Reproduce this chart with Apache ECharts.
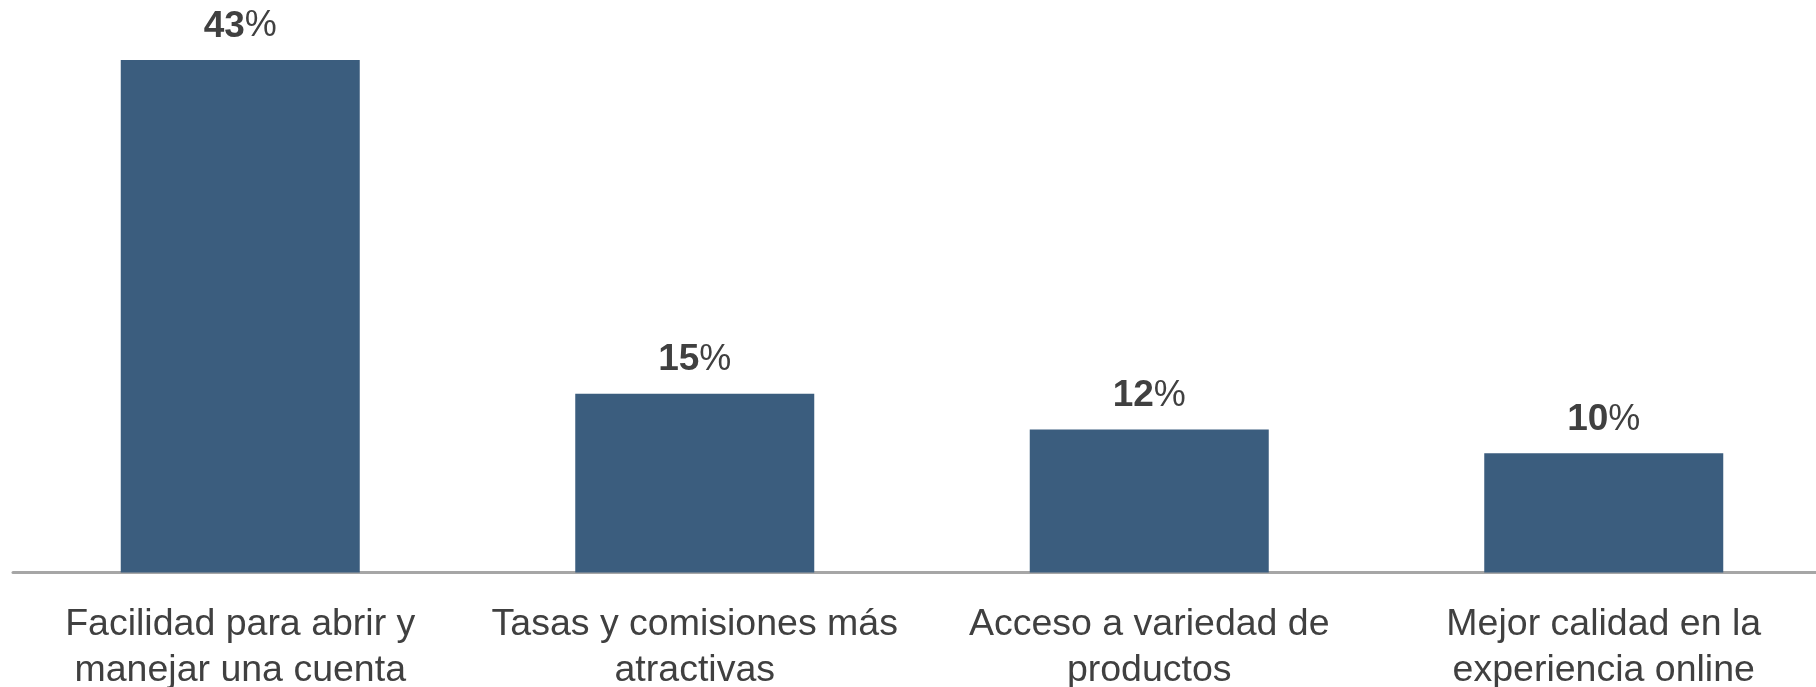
<!DOCTYPE html>
<html>
<head>
<meta charset="utf-8">
<style>
html,body{margin:0;padding:0;background:#fff;}
#chart{width:1816px;height:687px;}
</style>
<script src="https://cdn.jsdelivr.net/npm/echarts@6/dist/echarts.min.js"></script>
</head>
<body>
<div id="chart"></div>
<script>
const categories = [
  "Facilidad para abrir y\nmanejar una cuenta",
  "Tasas y comisiones más\natractivas",
  "Acceso a variedad de\nproductos",
  "Mejor calidad en la\nexperiencia online"
];
const values = [43, 15, 12, 10];

const chart = echarts.init(document.getElementById('chart'));
chart.setOption({
  animation: false,
  grid: { left: 13, right: -15, top: 60, bottom: 114.5, containLabel: false, outerBoundsMode: 'none' },
  xAxis: {
    type: 'category',
    data: categories,
    axisLine: { show: true, lineStyle: { color: '#a6a6a6', width: 3 } },
    axisTick: { show: false },
    axisLabel: {
      interval: 0,
      margin: 29,
      color: '#404040',
      fontFamily: 'Liberation Sans, Arial, sans-serif',
      fontSize: 37.5,
      lineHeight: 46
    }
  },
  yAxis: {
    type: 'value',
    min: 0,
    max: 43,
    show: false,
    splitLine: { show: false }
  },
  series: [{
    type: 'bar',
    data: values,
    barWidth: 239,
    itemStyle: { color: '#3b5d7e' },
    label: {
      show: true,
      position: 'top',
      distance: 15,
      formatter: function (p) { return '{b|' + p.value + '}{p|%}'; },
      rich: {
        b: { fontFamily: 'Liberation Sans, Arial, sans-serif', fontSize: 37, fontWeight: 'bold', color: '#404040' },
        p: { fontFamily: 'Liberation Sans, Arial, sans-serif', fontSize: 36, fontWeight: 'normal', color: '#404040' }
      }
    }
  }]
});
</script>
</body>
</html>
